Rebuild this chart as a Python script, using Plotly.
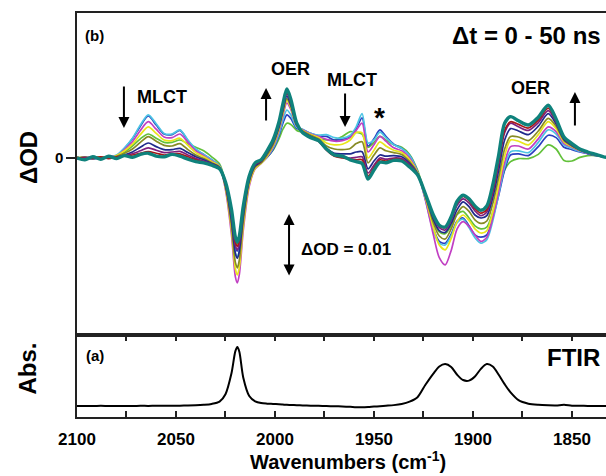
import plotly.graph_objects as go

# Wavenumber grid (cm-1), shared by all spectra
wn = [2100, 2096, 2092, 2088, 2084, 2080,
      2076, 2072, 2068, 2064, 2060, 2056, 2052, 2048, 2044, 2040, 2036, 2032, 2028,
      2025, 2022, 2020, 2019, 2018, 2016, 2013, 2010, 2007, 2004, 2001, 1998, 1996, 1994, 1992, 1989, 1986, 1982,
      1978, 1974, 1970, 1966, 1962, 1959, 1956, 1953, 1950, 1947, 1944, 1940, 1936, 1932,
      1928, 1924, 1920, 1917, 1914, 1911, 1908, 1905, 1902, 1899, 1896, 1893, 1890, 1887,
      1884, 1881, 1877, 1872, 1867, 1862, 1858, 1854, 1850, 1846, 1842, 1838, 1834, 1830]

# Transient spectra, dOD in mOD (time order: first -> last)
s_green = [0.1, 0.0, 0.1, 0.2, 0.1, 0.3,
           1.0, 2.0, 3.2, 4.0, 3.3, 2.6, 2.6, 3.0, 2.4, 1.8, 1.2, 0.2, -1.0,
           -4.0, -9.0, -13.6, -14.3, -13.4, -8.6, -3.5, -1.3, -0.6, 0.2, 1.3, 3.2, 4.8, 5.8, 5.6, 4.6, 4.3, 3.8,
           3.2, 3.0, 3.0, 3.6, 4.4, 4.3, 4.0, 1.8, 2.6, 3.6, 3.0, 2.2, 1.8, 0.6,
           -2.0, -6.2, -10.5, -12.3, -12.6, -11.3, -9.4, -8.9, -10.0, -11.3, -11.8, -11.5, -9.0, -5.6,
           -2.0, -0.6, -0.1, -0.1, 0.6, 2.2, 1.5, -0.4, -0.5, 0.1, 0.4, 0.4, 0.2, 0.0]
s_blue = [0.0, 0.1, -0.2, 0.1, 0.0, 0.4,
          1.6, 3.2, 5.3, 7.0, 5.5, 4.0, 3.9, 4.6, 2.9, 1.4, 0.6, -0.3, -1.3,
          -4.4, -10.0, -14.9, -15.5, -14.5, -9.2, -3.8, -1.5, -0.8, 0.1, 1.4, 3.7, 5.8, 7.2, 6.6, 4.9, 4.7, 4.1,
          3.7, 3.6, 3.0, 3.1, 3.6, 4.9, 6.7, 2.0, 3.2, 4.7, 3.6, 2.3, 1.6, 0.4,
          -2.3, -6.8, -11.8, -13.9, -14.2, -12.7, -10.5, -10.0, -11.3, -12.8, -13.2, -12.8, -10.0, -6.2,
          -2.0, 0.5, 0.7, 0.4, 1.9, 3.8, 3.4, 1.8, 1.4, 1.0, 0.7, 0.4, 0.2, 0.0]
s_cyan = [0.1, -0.1, 0.2, 0.0, 0.2, 0.5,
          1.7, 3.3, 5.5, 7.2, 5.7, 4.1, 4.0, 4.7, 3.0, 1.5, 0.6, -0.3, -1.3,
          -4.6, -10.5, -15.8, -16.5, -15.4, -9.8, -4.0, -1.6, -0.8, 0.2, 1.6, 4.0, 6.3, 8.0, 7.2, 5.1, 4.8, 4.1,
          3.8, 3.9, 3.4, 3.3, 3.8, 5.2, 7.4, 2.5, 3.0, 4.3, 3.4, 2.2, 1.6, 0.4,
          -2.3, -7.0, -12.2, -14.2, -14.5, -13.0, -10.8, -10.2, -11.6, -13.3, -14.2, -13.6, -10.5, -6.0,
          -1.5, 1.05, 1.2, 0.9, 2.6, 4.7, 4.0, 2.2, 1.6, 1.1, 0.8, 0.5, 0.2, 0.0]
s_magenta = [-0.2, 0.1, 0.2, -0.1, 0.3, 0.3,
             1.4, 2.7, 4.6, 6.05, 4.8, 3.5, 3.4, 4.0, 2.6, 1.2, 0.4, -0.5, -1.4,
             -5.3, -12.7, -19.8, -20.8, -19.4, -12.0, -4.7, -1.8, -0.9, 0.2, 1.8, 4.5, 7.1, 9.2, 8.1, 5.3, 4.7, 4.0,
             3.6, 3.1, 2.8, 2.9, 3.4, 4.6, 5.8, 1.0, 2.2, 3.6, 2.8, 1.7, 1.2, 0.0,
             -2.4, -7.0, -12.8, -16.6, -17.8, -15.4, -11.8, -10.6, -11.4, -12.8, -13.9, -13.2, -10.0, -5.5,
             -0.8, 1.9, 2.0, 1.5, 3.2, 5.2, 4.4, 2.4, 1.8, 1.2, 0.8, 0.5, 0.2, 0.0]
s_yellow = [0.0, 0.2, -0.1, 0.2, 0.0, 0.4,
            1.2, 2.3, 3.9, 5.2, 4.1, 3.0, 2.9, 3.3, 2.1, 0.9, 0.2, -0.6, -1.4,
            -5.0, -11.9, -18.5, -19.5, -18.2, -11.3, -4.4, -1.7, -0.9, 0.3, 2.0, 4.8, 7.4, 9.6, 8.4, 5.4, 4.6, 3.9,
            3.4, 2.5, 2.2, 2.3, 3.0, 4.2, 4.2, 0.0, 1.3, 2.7, 2.0, 1.3, 0.9, -0.3,
            -2.4, -6.6, -11.6, -14.5, -15.3, -13.4, -10.6, -9.5, -10.4, -11.8, -12.5, -12.1, -9.0, -4.5,
            0.3, 3.0, 2.8, 2.2, 3.9, 6.05, 4.9, 2.7, 1.9, 1.3, 0.9, 0.5, 0.2, 0.0]
s_olive = [0.1, -0.2, 0.1, 0.0, 0.1, 0.3,
           0.8, 1.5, 2.6, 3.55, 2.8, 2.1, 2.0, 2.4, 1.4, 0.5, -0.1, -0.8, -1.5,
           -4.8, -11.2, -17.4, -18.3, -17.0, -10.5, -4.0, -1.5, -0.8, 0.5, 2.2, 5.0, 7.7, 9.9, 8.6, 5.4, 4.5, 3.8,
           3.2, 2.0, 1.5, 1.4, 1.6, 2.4, 2.7, -0.8, 0.5, 1.7, 1.2, 0.9, 0.6, -0.6,
           -2.5, -6.4, -10.8, -13.0, -13.5, -11.8, -9.3, -8.1, -8.9, -10.3, -10.9, -10.5, -7.6, -3.2,
           1.5, 3.6, 3.5, 2.9, 4.5, 6.6, 5.3, 2.9, 2.0, 1.3, 0.9, 0.5, 0.2, 0.0]
s_navy = [-0.1, 0.1, 0.0, -0.1, 0.2, 0.1,
          0.5, 1.0, 1.8, 2.5, 1.9, 1.4, 1.4, 1.6, 0.9, 0.2, -0.3, -0.9, -1.6,
          -4.6, -10.3, -15.9, -16.7, -15.5, -9.6, -3.7, -1.3, -0.6, 0.8, 2.5, 5.2, 8.0, 10.3, 8.9, 5.5, 4.4, 3.6,
          3.0, 1.6, 0.8, 0.7, 0.7, 1.0, 1.05, -1.8, -0.5, 0.5, 0.3, 0.4, 0.2, -0.9,
          -2.6, -6.2, -10.2, -12.1, -12.4, -10.9, -8.6, -7.3, -8.1, -9.5, -10.0, -9.6, -6.6, -2.0,
          3.0, 4.9, 4.5, 3.9, 5.3, 7.4, 5.7, 3.1, 2.1, 1.4, 0.9, 0.5, 0.2, 0.0]
s_purple = [0.0, 0.1, -0.1, 0.1, 0.0, 0.2,
            0.4, 0.7, 1.2, 1.7, 1.3, 0.9, 1.0, 1.1, 0.5, -0.1, -0.5, -1.0, -1.7,
            -4.4, -9.5, -14.6, -15.3, -14.2, -8.8, -3.4, -1.1, -0.5, 0.9, 2.7, 5.5, 8.3, 10.7, 9.2, 5.6, 4.3, 3.5,
            2.9, 1.4, 0.4, 0.2, 0.0, 0.1, 0.2, -2.5, -1.2, 0.0, -0.2, 0.0, -0.1, -1.1,
            -2.6, -6.0, -9.8, -11.6, -12.0, -10.4, -7.9, -6.8, -7.5, -8.8, -9.6, -9.0, -5.8, -1.0,
            4.2, 5.8, 5.2, 4.6, 5.9, 7.9, 6.0, 3.3, 2.2, 1.4, 0.9, 0.5, 0.2, 0.0]
s_darkred = [0.1, -0.1, 0.0, 0.2, -0.1, 0.2,
             0.3, 0.5, 0.8, 1.05, 0.8, 0.5, 0.7, 0.7, 0.2, -0.3, -0.7, -1.1, -1.8,
             -4.2, -9.0, -14.0, -14.7, -13.6, -8.4, -3.2, -1.0, -0.5, 1.0, 2.8, 5.7, 8.6, 11.0, 9.4, 5.6, 4.2, 3.4,
             2.8, 1.3, 0.3, 0.0, -0.2, -0.3, -0.3, -3.0, -1.6, -0.3, -0.5, -0.2, -0.3, -1.3,
             -2.7, -6.0, -9.6, -11.3, -11.6, -10.0, -7.5, -6.4, -7.1, -8.4, -9.2, -8.6, -5.3, -0.5,
             4.6, 6.05, 5.6, 5.0, 6.3, 8.3, 6.2, 3.4, 2.3, 1.5, 1.0, 0.6, 0.2, 0.0]
s_teal = [0.0, -0.3, 0.2, -0.2, 0.3, -0.1,
          0.4, 0.1, 0.6, 0.8, 0.3, 0.2, 0.6, 0.3, -0.2, -0.6, -0.8, -1.2, -1.8,
          -4.0, -8.5, -13.2, -14.0, -13.0, -8.0, -3.0, -0.8, -0.3, 1.2, 3.0, 6.0, 9.0, 11.5, 9.8, 5.8, 4.2, 3.4,
          2.9, 1.5, 0.5, 0.3, -0.3, -0.6, -0.9, -3.5, -2.0, -0.7, -0.8, -0.4, -0.5, -1.5,
          -2.8, -6.0, -9.5, -11.2, -11.5, -9.8, -7.2, -6.2, -6.8, -8.0, -8.7, -8.0, -4.5, 0.5,
          5.8, 6.9, 6.2, 5.5, 6.8, 8.8, 6.5, 3.5, 2.4, 1.5, 1.0, 0.6, 0.2, 0.0]

# Ground-state FTIR absorbance (normalised)
ftir = [0.0, 0.002, 0.0, 0.003, 0.001, 0.002,
        0.002, 0.0, 0.003, 0.002, 0.004, 0.003, 0.005, 0.006, 0.008, 0.012, 0.02, 0.035, 0.075,
        0.2, 0.55, 0.93, 1.0, 0.92, 0.48, 0.17, 0.08, 0.05, 0.04, 0.035, 0.03, 0.025, 0.02, 0.018, 0.014, 0.01, 0.006,
        0.003, 0.0, -0.004, -0.008, -0.014, -0.02, -0.022, -0.018, -0.01, -0.004, 0.004, 0.015, 0.035, 0.075,
        0.15, 0.36, 0.55, 0.67, 0.71, 0.66, 0.53, 0.44, 0.43, 0.5, 0.63, 0.71, 0.67, 0.53,
        0.37, 0.23, 0.1, 0.04, 0.02, 0.012, 0.01, 0.02, 0.005, 0.003, 0.002, 0.002, 0.001, 0.0]

series = [s_green, s_blue, s_cyan, s_magenta, s_yellow, s_olive, s_navy, s_purple, s_darkred, s_teal]
colors = ["#62c13a", "#2a3fc0", "#4cc4e4", "#c13fc3", "#e9e61c", "#878b25", "#1f2a8c", "#7d1f7e", "#a81818", "#0f827c"]
widths = [1.7, 1.7, 1.7, 1.7, 1.7, 1.7, 1.7, 1.7, 1.7, 3.4]

FONT = "Liberation Sans, Arial, sans-serif"

fig = go.Figure()
for s, c, w in zip(series, colors, widths):
    fig.add_trace(go.Scatter(x=wn, y=s, mode="lines", xaxis="x2", yaxis="y2",
                             line=dict(color=c, width=w, shape="spline", smoothing=0.8),
                             showlegend=False, hoverinfo="skip"))
fig.add_trace(go.Scatter(x=wn, y=ftir, mode="lines", xaxis="x", yaxis="y",
                         line=dict(color="black", width=2, shape="spline", smoothing=0.8),
                         showlegend=False, hoverinfo="skip"))

XR = [2100, 1832.8]
axcol = "#222222"
fig.update_layout(
    width=606, height=476,
    margin=dict(l=77, r=0, t=13, b=59),
    paper_bgcolor="white", plot_bgcolor="white",
    font=dict(family=FONT, color="black"),
    xaxis=dict(domain=[0, 1], range=XR, anchor="y", showline=True, linecolor=axcol, linewidth=1.5,
               mirror="ticks", ticks="inside", ticklen=6, tickwidth=1.5, tickcolor=axcol,
               tick0=2100, dtick=50, showgrid=False, zeroline=False, ticklabelstandoff=6,
               tickfont=dict(family=FONT, size=17, weight="bold", color="black"),
               minor=dict(ticks="inside", dtick=25, tick0=2100, ticklen=6, tickwidth=1.5, tickcolor=axcol, showgrid=False)),
    xaxis2=dict(domain=[0, 1], range=XR, anchor="y2", matches="x", showline=True, linecolor=axcol, linewidth=1.5,
                mirror=True, ticks="", showticklabels=False, showgrid=False, zeroline=False),
    yaxis=dict(domain=[0, 82 / 404], range=[-0.186, 1.203], anchor="x", showline=True, linecolor=axcol,
               linewidth=1.5, ticks="", showticklabels=False, showgrid=False, zeroline=False),
    yaxis2=dict(domain=[82 / 404, 1], range=[-29.5, 24.17], anchor="x2", showline=True, linecolor=axcol,
                linewidth=1.5, ticks="outside", ticklen=9, tickwidth=1.5, tickcolor=axcol,
                tickvals=[0], ticktext=["0"], showgrid=False, zeroline=False,
                tickfont=dict(family=FONT, size=15, weight="bold", color="black")),
)

def txt(x, y, t, size, xref="x2", yref="y2", xanchor="center", angle=0):
    fig.add_annotation(x=x, y=y, xref=xref, yref=yref, text="<b>%s</b>" % t, showarrow=False,
                       xanchor=xanchor, yanchor="middle", textangle=angle,
                       font=dict(family=FONT, size=size, color="black"))

def arrow(x, y, ay, both=False):
    fig.add_annotation(x=x, y=y, xref="x2", yref="y2", ax=0, ay=ay, text="", showarrow=True,
                       arrowhead=2, arrowsize=1.1, arrowwidth=2, arrowcolor="black",
                       arrowside="end+start" if both else "end", startarrowhead=2, startarrowsize=1.1)

# top panel labels
txt(2097, 20.5, "(b)", 15, xanchor="left")
txt(1834.3, 20.5, "\u0394t = 0 - 50 ns", 24, xanchor="right")
txt(2057.1, 10.2, "MLCT", 18)
txt(1992.4, 14.8, "OER", 18)
txt(1961.1, 13.0, "MLCT", 18)
txt(1947.0, 6.7, "*", 28)
txt(1870.7, 11.7, "OER", 18)
txt(1987.9, -15.3, "\u0394OD = 0.01", 17, xanchor="left")
arrow(2076.3, 5.0, -43)
arrow(2004.5, 11.67, 34)
arrow(1964.6, 5.17, -35)
arrow(1848.5, 11.0, 35)
arrow(1992.9, -9.33, 63, both=True)

# bottom panel labels
txt(2096.5, 0.86, "(a)", 15, xref="x", yref="y", xanchor="left")
txt(1835, 0.83, "FTIR", 24, xref="x", yref="y", xanchor="right")

# axis titles
txt(-0.0926, 0.641, "\u0394OD", 24, xref="paper", yref="paper", angle=-90)
txt(-0.0926, 0.12, "Abs.", 24, xref="paper", yref="paper", angle=-90)
txt(0.512, -0.108, "Wavenumbers (cm<sup>-1</sup>)", 20, xref="paper", yref="paper")

fig.write_html("out.html", config={"displayModeBar": False},
               post_script="document.body.style.margin='0';")
